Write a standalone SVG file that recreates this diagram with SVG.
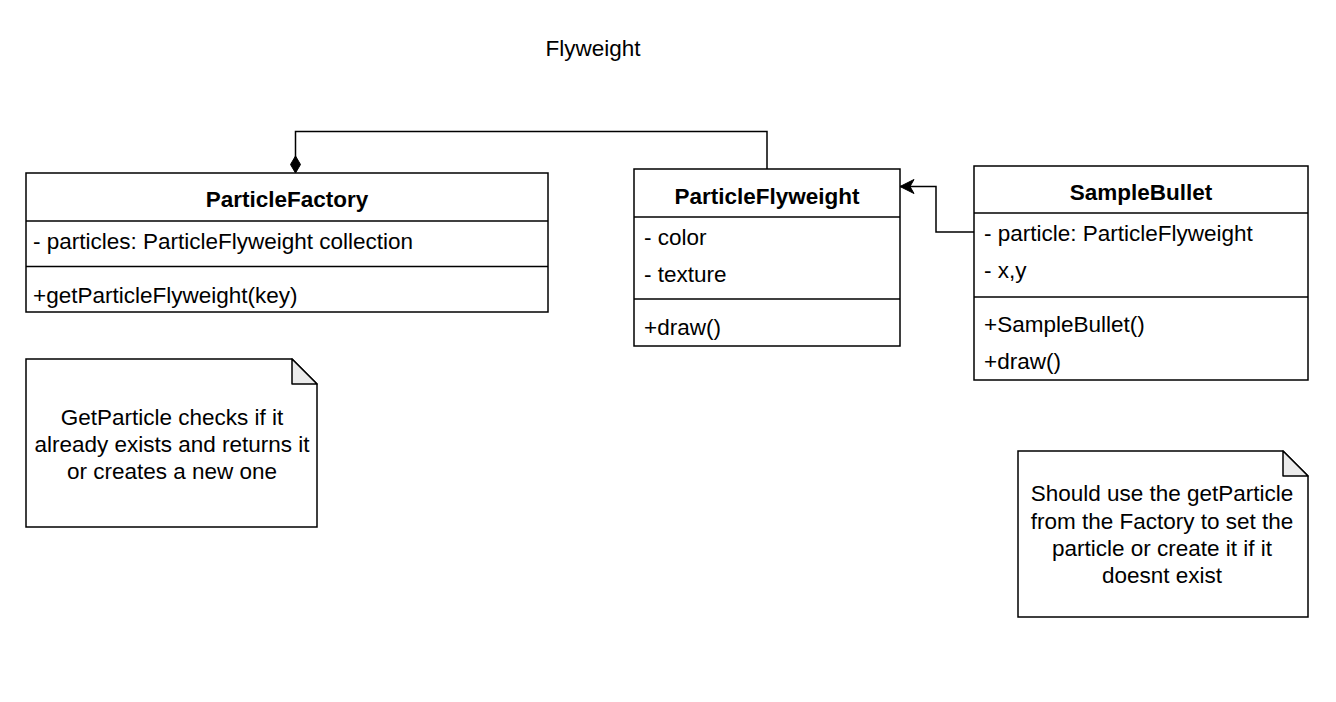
<svg xmlns="http://www.w3.org/2000/svg" width="1336" height="702" viewBox="0 0 1336 702">
<defs>
<style>
text{font-family:"Liberation Sans",Arial,Helvetica,sans-serif;font-size:22.5px;fill:#000}
.b{font-weight:bold}
.c{text-anchor:middle}
.box{fill:#fff;stroke:#000;stroke-width:1.5}
.ln{stroke:#000;stroke-width:1.5;fill:none}
.fold{fill:#ebebeb;stroke:#000;stroke-width:1.5;stroke-linejoin:round}
</style>
<marker id="arr" viewBox="0 0 16 16" refX="15" refY="8" markerWidth="16" markerHeight="16" markerUnits="userSpaceOnUse" orient="auto">
<path d="M15,8 L1,1 L5,8 L1,15 Z" fill="#000" stroke="#000" stroke-width="1"/>
</marker>
</defs>
<rect width="1336" height="702" fill="#fff"/>
<text class="c" x="593" y="56">Flyweight</text>
<g id="connectors">
<path class="ln" d="M767,169 V131.5 H295.5 V158"/>
<path d="M295.5,156 L300.5,164.5 L295.5,173 L290.5,164.5 Z" fill="#000" stroke="#000" stroke-width="1"/>
<path class="ln" d="M974,232 H936 V186.5 H900" marker-end="url(#arr)"/>
</g>
<g id="ParticleFactory">
<rect class="box" x="26" y="173" width="522" height="139"/>
<line class="ln" x1="26" y1="221" x2="548" y2="221"/>
<line class="ln" x1="26" y1="266.5" x2="548" y2="266.5"/>
<text class="b c" x="287" y="207">ParticleFactory</text>
<text x="33" y="249">- particles: ParticleFlyweight collection</text>
<text x="33" y="303">+getParticleFlyweight(key)</text>
</g>
<g id="ParticleFlyweight">
<rect class="box" x="634" y="169" width="266" height="177"/>
<line class="ln" x1="634" y1="217" x2="900" y2="217"/>
<line class="ln" x1="634" y1="299" x2="900" y2="299"/>
<text class="b c" x="767" y="204">ParticleFlyweight</text>
<text x="644" y="245">- color</text>
<text x="644" y="282">- texture</text>
<text x="644" y="335">+draw()</text>
</g>
<g id="SampleBullet">
<rect class="box" x="974" y="166" width="334" height="214"/>
<line class="ln" x1="974" y1="213" x2="1308" y2="213"/>
<line class="ln" x1="974" y1="297" x2="1308" y2="297"/>
<text class="b c" x="1141" y="200">SampleBullet</text>
<text x="984" y="241">- particle: ParticleFlyweight</text>
<text x="984" y="278">- x,y</text>
<text x="984" y="332">+SampleBullet()</text>
<text x="984" y="369">+draw()</text>
</g>
<g id="note1">
<path class="box" d="M26,359 H292 L317,384 V527 H26 Z"/>
<path class="fold" d="M292,359 V384 H317 Z"/>
<text class="c" x="172" y="425">GetParticle checks if it</text>
<text class="c" x="172" y="452">already exists and returns it</text>
<text class="c" x="172" y="479">or creates a new one</text>
</g>
<g id="note2">
<path class="box" d="M1018,451 H1283 L1308,476 V617 H1018 Z"/>
<path class="fold" d="M1283,451 V476 H1308 Z"/>
<text class="c" x="1162" y="501">Should use the getParticle</text>
<text class="c" x="1162" y="529">from the Factory to set the</text>
<text class="c" x="1162" y="556">particle or create it if it</text>
<text class="c" x="1162" y="583">doesnt exist</text>
</g>
</svg>
